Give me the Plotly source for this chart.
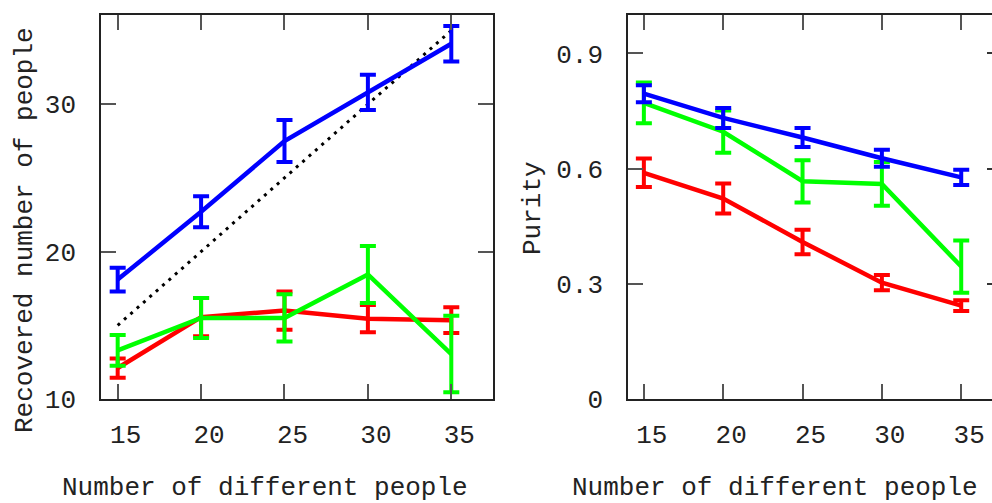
import plotly.graph_objects as go

# Number of different people (x values shared by both panels)
people = [15, 20, 25, 30, 35]

# Left panel: recovered number of people (mean and error)
rec_blue = [18.1, 22.7, 27.5, 30.8, 34.1]
rec_blue_err = [0.8, 1.05, 1.42, 1.2, 1.2]
rec_red = [12.1, 15.55, 16.0, 15.45, 15.35]
rec_red_err = [0.65, 1.3, 1.3, 0.93, 0.88]
rec_green = [13.3, 15.5, 15.5, 18.45, 13.05]
rec_green_err = [1.04, 1.36, 1.6, 1.93, 2.6]

# Right panel: purity (mean and error)
pur_blue = [0.795, 0.732, 0.681, 0.627, 0.577]
pur_blue_err = [0.022, 0.026, 0.025, 0.022, 0.02]
pur_green = [0.771, 0.696, 0.567, 0.560, 0.345]
pur_green_err = [0.053, 0.055, 0.055, 0.057, 0.068]
pur_red = [0.589, 0.522, 0.409, 0.303, 0.243]
pur_red_err = [0.037, 0.039, 0.032, 0.02, 0.014]

x_ticks = [15, 20, 25, 30, 35]
rec_ticks = [10, 20, 30]
pur_ticks = [0, 0.3, 0.6, 0.9]
pur_tick_text = ["0", "0.3", "0.6", "0.9"]

FONT = "Liberation Mono, Courier New, monospace"
TXT = "#222222"
RED, GREEN, BLUE = "#ff0000", "#00ff00", "#0000ff"

fig = go.Figure()


def series(x, y, err, color, xa, ya):
    fig.add_trace(go.Scatter(
        x=x, y=y, mode="lines", xaxis=xa, yaxis=ya,
        line=dict(color=color, width=4.5),
        error_y=dict(type="data", array=err, visible=True,
                     color=color, thickness=4, width=8),
        showlegend=False, hoverinfo="x+y",
    ))


# identity reference line on the left panel
fig.add_trace(go.Scatter(
    x=[people[0], people[-1]], y=[people[0], people[-1]],
    mode="lines", xaxis="x", yaxis="y",
    line=dict(color="black", width=3, dash="3px,5.5px"),
    showlegend=False, hoverinfo="skip",
))
series(people, rec_red, rec_red_err, RED, "x", "y")
series(people, rec_green, rec_green_err, GREEN, "x", "y")
series(people, rec_blue, rec_blue_err, BLUE, "x", "y")

series(people, pur_red, pur_red_err, RED, "x2", "y2")
series(people, pur_green, pur_green_err, GREEN, "x2", "y2")
series(people, pur_blue, pur_blue_err, BLUE, "x2", "y2")

# invisible point so the right-hand tick axis is rendered
fig.add_trace(go.Scatter(x=[people[0]], y=[0], xaxis="x2", yaxis="y3",
                         mode="markers", marker=dict(opacity=0),
                         showlegend=False, hoverinfo="skip"))

W, H = 992, 503
y_dom = [1 - 399 / H, 1 - 15 / H]

axis_common = dict(
    showgrid=False, zeroline=False, ticks="inside", ticklen=15,
    tickwidth=1.5, tickcolor="#555555", showline=True, linecolor="#222222",
    linewidth=1.5, automargin=False,
    tickfont=dict(family=FONT, size=26, color=TXT),
)


def label(text, px, py, angle=0):
    return dict(text=text, x=px / W, y=1 - py / H, xref="paper",
                yref="paper", xanchor="center", yanchor="middle",
                showarrow=False, textangle=angle,
                font=dict(family=FONT, size=26, color=TXT))


fig.update_layout(
    template="none",
    width=W, height=H,
    margin=dict(l=0, r=0, t=0, b=0, pad=0),
    paper_bgcolor="white", plot_bgcolor="white",
    xaxis=dict(axis_common, domain=[101 / W, 493 / W], range=[14, 37.5],
               tickvals=x_ticks, mirror="ticks", anchor="y",
               ticklabelstandoff=11, ticklabelshift=8),
    yaxis=dict(axis_common, domain=y_dom, range=[10, 36.05],
               tickvals=rec_ticks, mirror="ticks", anchor="x",
               ticklabelstandoff=18),
    xaxis2=dict(axis_common, domain=[628 / W, 1.0], range=[14, 36.94],
                tickvals=x_ticks, mirror="ticks", anchor="y2",
                ticklabelstandoff=11, ticklabelshift=8),
    yaxis2=dict(axis_common, domain=y_dom, range=[0, 1.0],
                tickvals=pur_ticks, ticktext=pur_tick_text,
                mirror=False, anchor="x2", ticklabelstandoff=18),
    # right-hand ticks of the purity panel, running off the page edge
    yaxis3=dict(overlaying="y2", side="right", anchor="x2", range=[0, 1.0],
                tickvals=pur_ticks, ticks="inside", ticklen=5,
                tickwidth=1.5, tickcolor="#333333", showticklabels=False,
                showgrid=False, zeroline=False, showline=False,
                automargin=False),
    annotations=[
        label("Number of different people", 265, 488),
        label("Number of different people", 775, 488),
        label("Recovered number of people", 25, 230, -90),
        label("Purity", 533, 208, -90),
    ],
)

fig.write_html("out.html")
